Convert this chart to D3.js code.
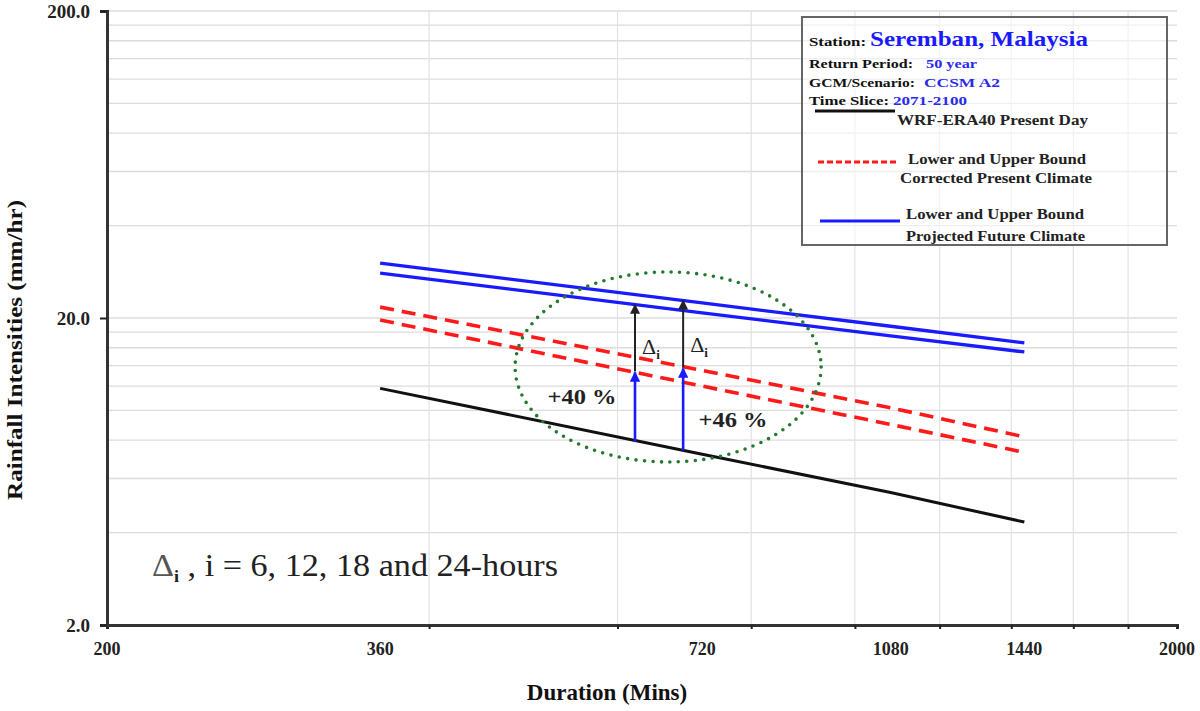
<!DOCTYPE html>
<html>
<head>
<meta charset="utf-8">
<script src="https://cdn.jsdelivr.net/npm/d3@7"></script>
<style>
  body { margin: 0; background: #fff; }
  text { font-family: "Liberation Serif", "Times New Roman", serif; }
</style>
</head>
<body>
<div id="chart"></div>
<script>
// durations in minutes (6, 12, 18, 24 hours)
var durations = [360, 720, 1080, 1440];

// rainfall intensities (mm/hr)
var presentDay     = [11.8, 7.2, 5.4, 4.33];
var correctedLower = [19.7, 12.0, 9.0, 7.3];
var correctedUpper = [21.7, 13.5, 10.2, 8.2];
var futureLower    = [28.0, 20.8, 17.5, 15.5];
var futureUpper    = [30.2, 22.4, 18.8, 16.6];

var xTickLabels = [200, 360, 720, 1080, 1440, 2000];
var yTickLabels = [2, 20, 200];

// annotation arrows: duration, base (present), middle (corrected), top (future)
var arrowX    = [623, 691];
var arrowBase = [7.9, 7.4];
var arrowMid  = [13.3, 13.7];
var arrowTop  = [22.1, 22.8];
var arrowPct  = ["+40 %", "+46 %"];

var svgWidth = 1200;
var svgHeight = 711;

var margin = {top: 11, right: 23, bottom: 86, left: 107};
var width = svgWidth - margin.left - margin.right;
var height = svgHeight - margin.top - margin.bottom;

var svg = d3.select("#chart")
    .append("svg")
    .attr("width", svgWidth)
    .attr("height", svgHeight)
    .style("background", "#fff");

var defs = svg.append("defs");
function marker(id, color, size) {
  defs.append("marker")
      .attr("id", id)
      .attr("viewBox", "0 0 10 10")
      .attr("refX", 9).attr("refY", 5)
      .attr("markerWidth", size).attr("markerHeight", size)
      .attr("orient", "auto")
    .append("path")
      .attr("d", "M0,0 L10,5 L0,10 z")
      .attr("fill", color);
}
marker("headBlue", "#1a1aff", 4);
marker("headBlack", "#222", 5);

var chartGroup = svg.append("g")
    .attr("transform", `translate(${margin.left}, ${margin.top})`);

var xScale = d3.scaleLog().domain([200, 2000]).range([0, width]);
var yScale = d3.scaleLog().domain([2, 200]).range([height, 0]);

// gridlines
var yGrid = d3.range(4, 21, 2).concat(d3.range(40, 201, 20));
var xGrid = d3.range(400, 1801, 200);

chartGroup.append("g")
    .selectAll("line")
    .data(yGrid)
    .enter()
    .append("line")
    .attr("x1", 0).attr("x2", width)
    .attr("y1", d => yScale(d)).attr("y2", d => yScale(d))
    .attr("stroke", "#dcdcdc")
    .attr("stroke-width", 1.3);

chartGroup.append("g")
    .selectAll("line")
    .data(xGrid)
    .enter()
    .append("line")
    .attr("x1", d => xScale(d)).attr("x2", d => xScale(d))
    .attr("y1", 0).attr("y2", height)
    .attr("stroke", "#e2e2e2")
    .attr("stroke-width", 1.2);

// axes
var bottomAxis = d3.axisBottom(xScale)
    .tickValues(d3.range(200, 2001, 200))
    .tickSize(4)
    .tickFormat("");
var leftAxis = d3.axisLeft(yScale)
    .tickValues(yTickLabels)
    .tickSize(7)
    .tickPadding(10)
    .tickFormat(d3.format(".1f"));

var xAxisG = chartGroup.append("g")
    .attr("transform", `translate(0,${height})`)
    .call(bottomAxis);
var yAxisG = chartGroup.append("g")
    .call(leftAxis);

[xAxisG, yAxisG].forEach(g => {
  g.select(".domain").attr("stroke", "#333").attr("stroke-width", 3);
  g.selectAll(".tick line").attr("stroke", "#222").attr("stroke-width", 2);
});
yAxisG.selectAll(".tick text")
    .attr("fill", "#222")
    .attr("font-size", "19px")
    .attr("font-weight", "bold")
    .style("font-family", "Liberation Serif, serif");

chartGroup.append("g")
    .selectAll("text")
    .data(xTickLabels)
    .enter()
    .append("text")
    .attr("x", d => xScale(d))
    .attr("y", height + 30)
    .attr("text-anchor", "middle")
    .attr("font-size", "18px")
    .attr("font-weight", "bold")
    .attr("fill", "#222")
    .text(d => d);

// series
var line = d3.line()
    .x((d, i) => xScale(durations[i]))
    .y(d => yScale(d));

function drawSeries(values, color, w, dash) {
  chartGroup.append("path")
      .datum(values)
      .attr("d", line)
      .attr("fill", "none")
      .attr("stroke", color)
      .attr("stroke-width", w)
      .attr("stroke-dasharray", dash || null);
}
drawSeries(presentDay, "#111", 3);
drawSeries(correctedLower, "#ff1a1a", 3.6, "14 8");
drawSeries(correctedUpper, "#ff1a1a", 3.6, "14 8");
drawSeries(futureLower, "#1a1aff", 3.3);
drawSeries(futureUpper, "#1a1aff", 3.3);

// dotted ellipse
chartGroup.append("ellipse")
    .attr("cx", xScale(669))
    .attr("cy", yScale(13.85))
    .attr("rx", 153)
    .attr("ry", 95)
    .attr("fill", "none")
    .attr("stroke", "#237a2e")
    .attr("stroke-width", 3.6)
    .attr("stroke-linecap", "round")
    .attr("stroke-dasharray", "0 8.5");

// arrows
arrowX.forEach((d, i) => {
  chartGroup.append("line")
      .attr("x1", xScale(d)).attr("x2", xScale(d))
      .attr("y1", yScale(arrowBase[i])).attr("y2", yScale(arrowMid[i]))
      .attr("stroke", "#1a1aff")
      .attr("stroke-width", 2.6)
      .attr("marker-end", "url(#headBlue)");
  chartGroup.append("line")
      .attr("x1", xScale(d)).attr("x2", xScale(d))
      .attr("y1", yScale(arrowMid[i]) - 1).attr("y2", yScale(arrowTop[i]))
      .attr("stroke", "#222")
      .attr("stroke-width", 2)
      .attr("marker-end", "url(#headBlack)");

  var dl = chartGroup.append("text")
      .attr("x", xScale(d) + 7)
      .attr("y", (yScale(arrowMid[i]) + yScale(arrowTop[i])) / 2 + 15 + i * 3)
      .attr("font-size", "22px")
      .attr("fill", "#222");
  dl.append("tspan").text("\u0394");
  dl.append("tspan").attr("font-size", "13px").attr("dy", 5).attr("font-weight", "bold").text("i");
});

chartGroup.append("text")
    .attr("x", 582 - margin.left)
    .attr("y", 404 - margin.top)
    .attr("text-anchor", "middle")
    .attr("font-size", "20px")
    .attr("font-weight", "bold")
    .attr("fill", "#222")
    .attr("textLength", 69)
    .attr("lengthAdjust", "spacingAndGlyphs")
    .text(arrowPct[0]);
chartGroup.append("text")
    .attr("x", 733 - margin.left)
    .attr("y", 427 - margin.top)
    .attr("text-anchor", "middle")
    .attr("font-size", "20px")
    .attr("font-weight", "bold")
    .attr("fill", "#222")
    .attr("textLength", 69)
    .attr("lengthAdjust", "spacingAndGlyphs")
    .text(arrowPct[1]);

// bottom note
var note = svg.append("text")
    .attr("x", 152)
    .attr("y", 576)
    .attr("font-size", "32px")
    .attr("fill", "#222")
    .attr("textLength", 406)
    .attr("lengthAdjust", "spacingAndGlyphs");
note.append("tspan").attr("fill", "#555").text("\u0394");
note.append("tspan").attr("font-size", "17px").attr("dy", 6).attr("font-weight", "bold").text("i");
note.append("tspan").attr("dy", -6).text(" , i = 6, 12, 18 and 24-hours");

// axis titles
svg.append("text")
    .attr("transform", "translate(22,350) rotate(-90)")
    .attr("text-anchor", "middle")
    .attr("font-size", "22px")
    .attr("font-weight", "bold")
    .attr("fill", "#111")
    .attr("textLength", 300)
    .attr("lengthAdjust", "spacingAndGlyphs")
    .text("Rainfall Intensities (mm/hr)");

svg.append("text")
    .attr("x", 607)
    .attr("y", 700)
    .attr("text-anchor", "middle")
    .attr("font-size", "23px")
    .attr("font-weight", "bold")
    .attr("fill", "#111")
    .text("Duration (Mins)");

// legend box
var legend = svg.append("g");
legend.append("rect")
    .attr("x", 802).attr("y", 17)
    .attr("width", 365).attr("height", 228)
    .attr("fill", "#fff")
    .attr("fill-opacity", 0.55)
    .attr("stroke", "#666")
    .attr("stroke-width", 2);

function legendText(x, y, size, color, str, len) {
  var t = legend.append("text")
      .attr("x", x).attr("y", y)
      .attr("font-size", size + "px")
      .attr("font-weight", "bold")
      .attr("fill", color)
      .text(str);
  if (len) t.attr("textLength", len).attr("lengthAdjust", "spacingAndGlyphs");
  return t;
}
legendText(809, 46, 13, "#111", "Station:", 57);
legendText(870, 46, 22, "#1a1aff", "Seremban, Malaysia", 218);
legendText(809, 68, 13, "#111", "Return Period:", 104);
legendText(926, 68, 13, "#2a2aee", "50 year", 51);
legendText(809, 87, 13, "#111", "GCM/Scenario:", 106);
legendText(924, 87, 13, "#2a2aee", "CCSM A2", 76);
legendText(809, 105, 13, "#111", "Time Slice:", 80);
legendText(893, 105, 13, "#2a2aee", "2071-2100", 74);

legend.append("line")
    .attr("x1", 815).attr("x2", 895).attr("y1", 111).attr("y2", 111)
    .attr("stroke", "#111").attr("stroke-width", 3);
legendText(897, 125, 15, "#222", "WRF-ERA40 Present Day", 191);

legend.append("line")
    .attr("x1", 818).attr("x2", 898).attr("y1", 162).attr("y2", 162)
    .attr("stroke", "#ff1a1a").attr("stroke-width", 3)
    .attr("stroke-dasharray", "6 3");
legendText(908, 164, 15, "#222", "Lower and Upper Bound", 178);
legendText(900, 183, 15, "#222", "Corrected Present Climate", 192);

legend.append("line")
    .attr("x1", 820).attr("x2", 900).attr("y1", 221).attr("y2", 221)
    .attr("stroke", "#1a1aff").attr("stroke-width", 3);
legendText(906, 219, 15, "#222", "Lower and Upper Bound", 178);
legendText(906, 241, 15, "#222", "Projected Future Climate", 179);
</script>
</body>
</html>
